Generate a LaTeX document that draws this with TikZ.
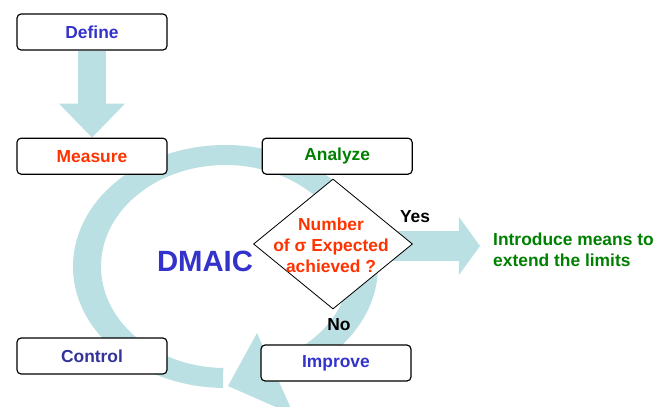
\documentclass[tikz,border=0pt]{standalone}
\usepackage{fontspec}
\setmainfont{Liberation Sans}
\usetikzlibrary{positioning, arrows.meta, calc, shapes.geometric, backgrounds}
\definecolor{ringteal}{HTML}{BBE0E3}
\definecolor{dblue}{HTML}{3333CC}
\definecolor{cblue}{HTML}{333399}
\definecolor{mred}{HTML}{FF3300}
\definecolor{agreen}{HTML}{008000}
\tikzset{
  stage/.style={draw, line width=1pt, rounded corners=3.5pt, fill=white,
    minimum width=4.5cm, minimum height=1.08cm, font=\fontsize{14.85}{18}\selectfont\bfseries},
  decision/.style={diamond, draw, line width=0.7pt, fill=white,
    minimum width=4.77cm, minimum height=3.9cm, inner sep=0pt},
  txt/.style={inner sep=0pt, font=\fontsize{14.85}{18}\selectfont\bfseries},
  fatdown/.style={ringteal, line width=24pt, -{Triangle[width=54.6pt, length=29pt]}},
  fatright/.style={ringteal, line width=24.8pt, -{Triangle[width=48.7pt, length=18pt]}}
}

\begin{document}
\begin{tikzpicture}[x=0.03cm, y=-0.03cm]
\useasboundingbox (0,0) rectangle (666,406);

\node[stage, text=dblue] (define) at (92,32) {Define};
\node[stage, text=mred, below=2.61cm of define] (measure) {Measure};
\node[stage, text=agreen, right=2.82cm of measure] (analyze) {Analyze};
\node[stage, text=cblue] (control) at (92,356) {Control};
\node[stage, text=dblue] (improve) at (336,363) {Improve};

\node[decision] (check) at (333,244) {};
\node[txt, text=mred, align=center] (question) at (331,245) {Number\\of σ Expected\\achieved ?};
\node[inner sep=0pt, text=dblue, font=\fontsize{25}{30}\selectfont\bfseries] (dmaic) at (205,261) {DMAIC};
\node[txt] (yes) at (415,217) {Yes};
\node[txt] (no) at (339,325) {No};
\node[txt, text=agreen, align=left, anchor=west] (intro) at (493,249.5) {Introduce means to\\extend the limits};
\coordinate (yestip) at (480,246);
\coordinate (ringc) at (225.5,266.5);

\begin{scope}[on background layer]
\fill[ringteal] ($(ringc)+(60:152.5 and 121.5)$)
  arc[start angle=60, end angle=-269, x radius=152.5, y radius=121.5]
  -- ($(ringc)+(-269:124.5 and 101.5)$)
  arc[start angle=-269, end angle=60, x radius=124.5, y radius=101.5] -- cycle;
\fill[ringteal] (257,333) -- (294,415) -- (228,386) -- cycle;
\draw[fatdown] (define.south) -- (measure.north);
\draw[fatright] (check.center |- yestip) -- (yestip);
\end{scope}

\end{tikzpicture}
\end{document}
